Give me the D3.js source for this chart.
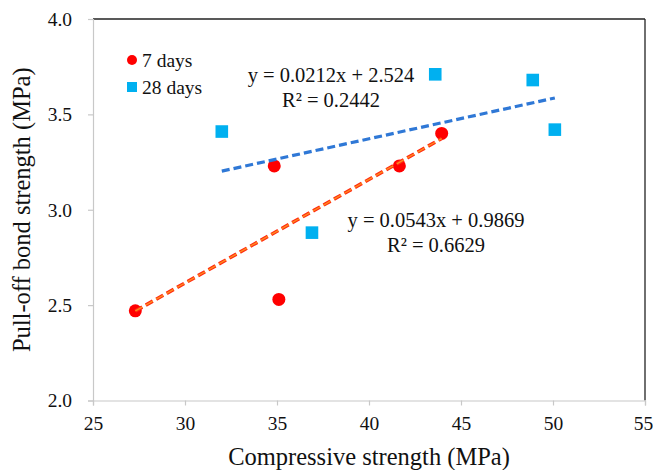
<!DOCTYPE html>
<html>
<head>
<meta charset="utf-8">
<script src="https://cdn.jsdelivr.net/npm/d3@7"></script>
<style>
  html, body { margin: 0; padding: 0; background: #fff; }
  svg { display: block; }
</style>
</head>
<body>
<svg id="chart" width="653" height="470" font-family="Liberation Serif"></svg>
<script>
// Compressive strength (MPa) vs pull-off bond strength (MPa)
const days7X = [27.3, 34.85, 35.1, 41.65, 43.95];
const days7Y = [2.47, 3.23, 2.53, 3.23, 3.40];
const days28X = [32.0, 36.9, 43.6, 48.9, 50.1];
const days28Y = [3.41, 2.88, 3.71, 3.68, 3.42];

// Linear trendlines: slope, intercept, R²
const fit7 = [0.0543, 0.9869, 0.6629];
const fit28 = [0.0212, 2.524, 0.2442];

const seriesNames = ["7 days", "28 days"];
const xTicks = [25, 30, 35, 40, 45, 50, 55];
const yTicks = [2.0, 2.5, 3.0, 3.5, 4.0];
const xTitle = "Compressive strength (MPa)";
const yTitle = "Pull-off bond strength (MPa)";

const svg = d3.select("#chart");
const x = d3.scaleLinear().domain([25, 55]).range([93, 645]);
const y = d3.scaleLinear().domain([2, 4]).range([400.5, 19]);

const axisGray = "#c8c8c8";
const red = "#ff0000";
const cyan = "#00b0f0";
const lineBlue = "#2f78d6";
const serif = "Liberation Serif";

// Plot frame: dark top and right edges
svg.append("line").attr("x1", x(25)).attr("x2", x(55)).attr("y1", y(4)).attr("y2", y(4))
  .attr("stroke", "#222").attr("stroke-width", 1.3);
svg.append("line").attr("x1", x(55)).attr("x2", x(55)).attr("y1", y(4)).attr("y2", y(2))
  .attr("stroke", "#222").attr("stroke-width", 1.3);

// Axes
const gx = svg.append("g").attr("transform", `translate(0,${y(2)})`)
  .call(d3.axisBottom(x).tickValues(xTicks).tickFormat(d3.format("d")).tickSize(5).tickPadding(11));
const gy = svg.append("g").attr("transform", `translate(${x(25)},0)`)
  .call(d3.axisLeft(y).tickValues(yTicks).tickFormat(d3.format(".1f")).tickSize(5).tickPadding(16));
[gx, gy].forEach(g => {
  g.attr("font-family", serif).attr("font-size", 19.5);
  g.select(".domain").attr("stroke", axisGray).attr("stroke-width", 1.2);
  g.selectAll(".tick line").attr("stroke", axisGray).attr("stroke-width", 1.2);
  g.selectAll(".tick text").attr("fill", "#111");
});
// keep the last x label inside the canvas
gx.selectAll(".tick text").filter(d => d === 55).attr("dx", -2);

// Axis titles
svg.append("text").attr("x", (x(25) + x(55)) / 2).attr("y", 465)
  .attr("text-anchor", "middle").attr("font-size", 24.5).attr("fill", "#111").text(xTitle);
svg.append("text").attr("transform", `translate(30,${(y(2) + y(4)) / 2}) rotate(-90)`)
  .attr("text-anchor", "middle").attr("font-size", 24.5).attr("fill", "#111").text(yTitle);

// Markers
const pts7 = days7X.map((v, i) => [v, days7Y[i]]);
const pts28 = days28X.map((v, i) => [v, days28Y[i]]);

svg.append("g").selectAll("rect").data(pts28).join("rect")
  .attr("x", d => x(d[0]) - 6.3).attr("y", d => y(d[1]) - 6.3)
  .attr("width", 12.6).attr("height", 12.6).attr("fill", cyan);
svg.append("g").selectAll("circle").data(pts7).join("circle")
  .attr("cx", d => x(d[0])).attr("cy", d => y(d[1])).attr("r", 6.5).attr("fill", red);

// Trendlines over the observed x range of each series
function trend(xs, fit) {
  const lo = d3.min(xs), hi = d3.max(xs);
  return [[lo, fit[0] * lo + fit[1]], [hi, fit[0] * hi + fit[1]]];
}
const line = d3.line().x(d => x(d[0])).y(d => y(d[1]));

svg.append("path").attr("d", line(trend(days28X, fit28)))
  .attr("fill", "none").attr("stroke", lineBlue).attr("stroke-width", 3.2)
  .attr("stroke-dasharray", "8,4");
svg.append("path").attr("d", line(trend(days7X, fit7)))
  .attr("fill", "none").attr("stroke", "#ff2a10").attr("stroke-width", 3.6)
  .attr("stroke-dasharray", "8,4");
svg.append("path").attr("d", line(trend(days7X, fit7)))
  .attr("fill", "none").attr("stroke", "#ff8a1e").attr("stroke-width", 1.4)
  .attr("stroke-dasharray", "8,4");

// Trendline equations
function eqLines(fit) {
  return [`y = ${fit[0]}x + ${fit[1]}`, `R² = ${fit[2]}`];
}
function drawEq(fit, cx, baseY) {
  const t = svg.append("text").attr("text-anchor", "middle").attr("font-size", 20.5).attr("fill", "#111");
  eqLines(fit).forEach((s, i) => {
    t.append("tspan").attr("x", cx).attr("y", baseY + i * 24.5).text(s);
  });
}
drawEq(fit28, 331, 82);
drawEq(fit7, 436, 227);

// Legend
const legend = svg.append("g");
legend.append("circle").attr("cx", 132).attr("cy", 60).attr("r", 5).attr("fill", red);
legend.append("rect").attr("x", 127).attr("y", 82).attr("width", 10).attr("height", 10).attr("fill", cyan);
legend.selectAll("text").data(seriesNames).join("text")
  .attr("x", 142).attr("y", (d, i) => 66.5 + i * 27)
  .attr("font-size", 19.5).attr("fill", "#111").text(d => d);
</script>
</body>
</html>
